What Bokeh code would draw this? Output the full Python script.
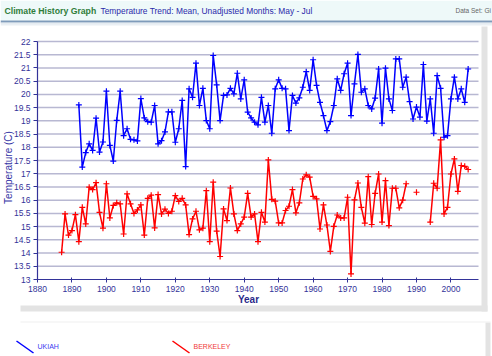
import numpy as np
from bokeh.plotting import figure
from bokeh.models import Label, BoxAnnotation, FixedTicker, Range1d
from bokeh.embed import file_html
from bokeh.resources import INLINE

nan = float("nan")

# ---------------- data ----------------
ukiah_years = list(range(1892, 2006))
ukiah_temp = [
    19.60, 17.25, 17.80, 18.13, 17.88, 19.10, 17.82, 18.20,
    20.12, 18.07, 17.48, 19.02, 20.12, 18.44, 18.70, 18.30, 18.28, 18.24,
    19.84, 19.11, 18.97, 18.95, 19.58, 18.13, 18.25, 18.58, 19.34, 19.34,
    18.19, 18.70, 19.77, 17.27, 20.21, 19.89, 21.18, 19.58, 20.23, 19.01,
    18.70, 21.47, 20.36, 19.01, 19.96, 19.98, 20.23, 20.02, 20.80, 19.83,
    20.55, 19.33, 19.11, 18.95, 18.85, 19.89, 18.95, 19.58, 18.53, 20.21,
    20.55, 20.23, 20.21, 18.63, 19.96, 19.67, 19.87, 20.27, 20.86, 20.15,
    21.31, 20.34, 19.70, 19.20, 18.63, 18.97, 19.58, 20.59, 20.15, 20.78,
    21.18, 19.20, 20.40, 21.51, 20.08, 20.21, 19.58, 19.45, 19.86, 20.96,
    18.91, 20.99, 19.83, 19.39, 21.34, 21.34, 20.27, 20.65, 19.73, 19.07,
    19.52, 19.14, 21.13, 18.99, 19.83, 18.53, 20.71, 20.23, 18.38, 18.44,
    19.83, 20.65, 19.83, 20.21, 19.70, 20.96,
]

berkeley_years = list(range(1887, 2006))
berkeley_temp = [
    14.03, 15.48, 14.68,
    14.85, 15.45, 14.43, 15.73, 15.10, 16.49, 16.40, 16.66, 15.54, 14.94,
    16.62, 15.33, 15.80, 15.90, 15.86, 14.72, 16.24, 15.86, 15.50, 15.63,
    15.82, 14.68, 16.07, 16.19, 14.95, 16.21, 15.48, 15.66, 15.50, 15.58,
    16.17, 15.95, 16.07, 15.82, 14.70, 15.29, 15.58, 14.88, 14.94, 16.36,
    14.43, 16.68, 14.83, 13.87, 15.67, 15.23, 16.46, 15.48, 14.85, 15.10,
    15.36, 16.26, 15.36, 15.48, 14.43, 15.54, 15.17, 17.52, 16.03, 15.96,
    15.14, 15.14, 15.61, 15.77, 16.40, 15.52, 15.90, 16.80, 16.96, 16.87,
    16.14, 16.05, 14.91, 15.82, 15.06, 14.06, 15.01, 15.44, 15.33, 15.33,
    16.11, 13.21, 16.01, 16.65, 15.73, 15.13, 16.89, 15.08, 16.26, 16.99,
    15.17, 16.74, 15.04, 16.45, 16.45, 15.71, 16.00, 16.62, nan, nan,
    16.30, nan, nan, nan, 15.17, 16.64, 16.45, 18.28, 15.48, 15.73,
    16.99, 17.56, 16.33, 17.31, 17.28, 17.16,
]

y_min, y_max = 13, 22
x_min, x_max = 1880, 2008
y_ticks = [13 + 0.5 * i for i in range(19)]
x_ticks = list(range(1880, 2001, 10))

series_names = ["UKIAH", "BERKELEY"]
series_colors = ["#0000ff", "#ff0000"]
legend_text_colors = ["#3a3af0", "#f03a3a"]

title_text = "Climate History Graph"
subtitle_text = "Temperature Trend: Mean, Unadjusted Months: May - Jul"
dataset_text = "Data Set: Gi"
y_label = "Temperature (C)"
x_label = "Year"

FONT = "Liberation Sans"

# ---------------- page geometry (canvas pixels) ----------------
W, H = 492, 356
PL, PR, PT, PB = 37, 478, 41, 279   # where the data area sits on the page

kx = (PR - PL) / (x_max - x_min)
ky = (PB - PT) / (y_max - y_min)
x_range = Range1d(x_min - PL / kx, x_max + (W - PR) / kx)
y_range = Range1d(y_min - (H - PB) / ky, y_max + PT / ky)

p = figure(width=W, height=H, output_backend="svg", toolbar_location=None,
           x_range=x_range, y_range=y_range, min_border=0)
p.extra_x_ranges = {"px": Range1d(0, W)}
p.extra_y_ranges = {"px": Range1d(H, 0)}
p.outline_line_color = None
p.background_fill_color = "white"
p.border_fill_color = "white"
p.xgrid.visible = False
p.ygrid.visible = False

axis_col = "#333399"
for ax in (p.xaxis[0], p.yaxis[0]):
    ax.axis_line_color = axis_col
    ax.axis_line_width = 1.2
    ax.major_tick_line_color = axis_col
    ax.minor_tick_line_color = None
    ax.major_label_text_color = axis_col
    ax.major_label_text_font = FONT
    ax.major_label_text_font_size = "8.5px"
    ax.major_label_standoff = 3

p.yaxis[0].ticker = FixedTicker(ticks=y_ticks)
p.xaxis[0].ticker = FixedTicker(ticks=x_ticks)
p.yaxis[0].fixed_location = x_min
p.xaxis[0].fixed_location = y_min
p.yaxis[0].bounds = (y_min, y_max)
p.xaxis[0].bounds = (x_min, x_max)
p.yaxis[0].major_tick_out = 4
p.yaxis[0].major_tick_in = 0
p.xaxis[0].major_tick_out = 3
p.xaxis[0].major_tick_in = 2

# horizontal grid lines at the y ticks
grid_y = [t for t in y_ticks if t > y_min]
p.segment(x0=[x_min] * len(grid_y), x1=[x_max] * len(grid_y), y0=grid_y, y1=grid_y,
          line_color="#b8b8d2", line_width=1.5, level="underlay")

# ---------------- decoration in page pixels ----------------
def box(l, r, t, b, color):
    p.add_layout(BoxAnnotation(left=l, right=r, top=t, bottom=b,
                               x_range_name="px", y_range_name="px",
                               fill_color=color, fill_alpha=1, line_color=None,
                               level="underlay"))

box(0, W, 0, 20, "#eef9f9")
box(0, W, 20, 22, "#7f9bba")
box(0, W, 22, 23, "#c3d1df")
box(0, W, 23, 25, "#eaeff4")
# panel shadows
box(481, 487, 26, 311, "#e3e3e3")
box(20, 487, 305, 311, "#e3e3e3")
box(485, 490, 322, H, "#e3e3e3")
box(20, 490, 321, 322, "#f0f0f0")

def lab(text, x, y, color, size, style="normal", align="left", angle=0.0):
    p.add_layout(Label(x=x, y=y, x_range_name="px", y_range_name="px",
                       text=text, text_color=color, text_font=FONT,
                       text_font_size=size, text_font_style=style,
                       text_align=align, text_baseline="middle", angle=angle))

lab(title_text, 4, 10, "#2e7d3a", "8.7px", "bold")
lab(subtitle_text, 100, 10, "#2a2aaa", "8.4px")
lab(dataset_text, 455, 10, "#666666", "6.5px")
lab(y_label, 8, 167, "#3535a5", "10px", align="center", angle=np.pi / 2)
lab(x_label, 248, 299, "#2a2a8a", "10px", "bold", align="center")

# ---------------- data series ----------------
ukiah_col, berk_col = series_colors
p.line(ukiah_years, ukiah_temp, line_color=ukiah_col, line_width=1.5)
p.scatter(ukiah_years, ukiah_temp, marker="cross", size=6, line_color=ukiah_col, line_width=1.2)
p.line(berkeley_years, berkeley_temp, line_color=berk_col, line_width=1.5)
p.scatter(berkeley_years, berkeley_temp, marker="cross", size=6, line_color=berk_col, line_width=1.2)

# ---------------- legend ----------------
legend_x = [16, 172]
p.segment(x0=legend_x, y0=[340.5] * 2, x1=[x + 17 for x in legend_x], y1=[352.5] * 2,
          x_range_name="px", y_range_name="px", line_color=series_colors, line_width=1.5)
for name, col, lx in zip(series_names, legend_text_colors, legend_x):
    lab(name, lx + 21, 346, col, "7px")

open("out.html", "w").write(file_html(p, INLINE))
